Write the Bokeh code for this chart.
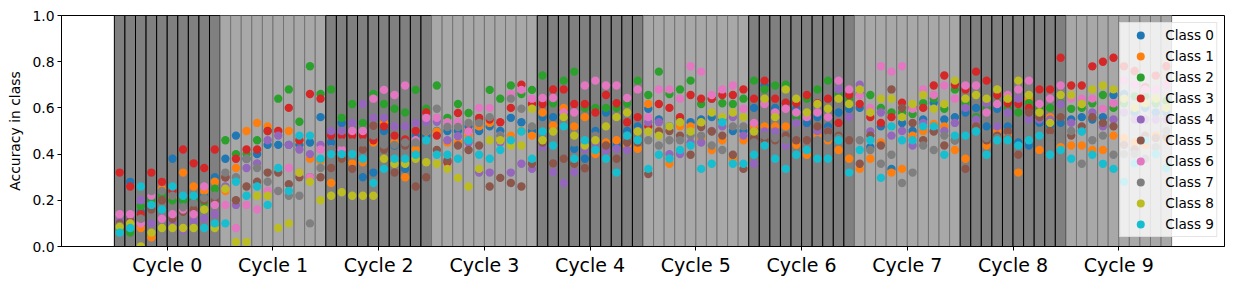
from bokeh.plotting import figure
from bokeh.models import Range1d, FixedTicker, PrintfTickFormatter, Legend, LegendItem, ColumnDataSource
from bokeh.embed import file_html
from bokeh.resources import INLINE

# ---------------- data ----------------
n_cycles = 10
epochs_per_cycle = 10
cycle_labels = ["Cycle 0", "Cycle 1", "Cycle 2", "Cycle 3", "Cycle 4",
                "Cycle 5", "Cycle 6", "Cycle 7", "Cycle 8", "Cycle 9"]
class_names = ["Class 0", "Class 1", "Class 2", "Class 3", "Class 4",
               "Class 5", "Class 6", "Class 7", "Class 8", "Class 9"]
y_ticks = [0.0, 0.2, 0.4, 0.6, 0.8, 1.0]

class0 = [.09,.28,.15,.22,.24,.38,.20,.20,.22,.30,.38,.48,.38,.40,.44,.44,.44,.44,.45,.56,
          .45,.535,.36,.30,.32,.50,.437,.336,.48,.48,.50,.50,.50,.52,.50,.52,.50,.557,.538,.50,
          .56,.56,.57,.423,.38,.50,.58,.437,.50,.52,.596,.55,.52,.55,.538,.55,.56,.55,.50,.50,
          .60,.697,.60,.62,.596,.535,.56,.52,.58,.596,.60,.43,.52,.336,.535,.50,.55,.622,.55,.56,
          .58,.60,.52,.596,.52,.45,.437,.535,.524,.535,.55,.56,.55,.56,.656,.66,.58,.60,.58,.58]
class1 = [.10,.09,.08,.04,.25,.21,.32,.26,.24,.28,.24,.34,.50,.535,.52,.50,.50,.46,.38,.37,
          .275,.38,.36,.365,.45,.538,.45,.30,.42,.498,.498,.45,.45,.48,.52,.535,.46,.48,.50,.48,
          .58,.524,.60,.52,.56,.40,.45,.46,.437,.423,.617,.50,.358,.52,.52,.47,.418,.46,.38,.46,
          .52,.52,.52,.52,.44,.397,.48,.46,.418,.38,.336,.38,.45,.32,.336,.48,.50,.53,.52,.418,
          .38,.52,.437,.50,.48,.32,.64,.418,.56,.43,.437,.437,.418,.418,.48,.47,.45,.44,.48,.47]
class2 = [.08,.06,.175,.20,.22,.20,.20,.20,.19,.25,.46,.40,.40,.46,.50,.64,.68,.54,.78,.66,
          .68,.557,.617,.535,.66,.617,.596,.58,.678,.596,.697,.557,.617,.578,.55,.678,.64,.697,.66,.678,
          .74,.62,.718,.757,.60,.60,.60,.60,.62,.718,.656,.757,.66,.68,.718,.617,.64,.62,.617,.64,
          .718,.68,.697,.70,.56,.64,.68,.718,.66,.64,.66,.656,.60,.58,.58,.574,.62,.64,.596,.68,
          .62,.56,.60,.62,.60,.58,.62,.60,.60,.62,.596,.60,.62,.656,.60,.62,.65,.65,.62,.63]
class3 = [.32,.26,.14,.32,.28,.24,.42,.36,.34,.42,.30,.38,.42,.42,.50,.50,.60,.46,.66,.64,
          .48,.48,.48,.48,.46,.52,.48,.463,.50,.58,.48,.365,.578,.50,.557,.55,.538,.60,.70,.617,
          .617,.68,.68,.617,.617,.58,.656,.62,.538,.56,.52,.617,.60,.56,.656,.64,.64,.656,.656,.68,
          .64,.718,.64,.622,.62,.656,.62,.64,.535,.656,.617,.56,.535,.56,.622,.60,.60,.697,.74,.70,
          .68,.757,.718,.656,.62,.617,.60,.68,.68,.817,.697,.697,.78,.80,.817,.78,.76,.69,.74,.78]
class4 = [.11,.12,.20,.10,.12,.10,.07,.11,.12,.14,.26,.18,.34,.36,.46,.48,.44,.42,.40,.44,
          .50,.50,.535,.617,.557,.557,.52,.52,.535,.54,.54,.46,.477,.45,.32,.32,.45,.32,.358,.336,
          .423,.322,.275,.322,.42,.45,.415,.423,.418,.50,.538,.538,.40,.40,.45,.45,.50,.52,.56,.48,
          .358,.498,.498,.437,.535,.50,.50,.50,.68,.56,.70,.498,.58,.48,.50,.437,.535,.50,.50,.535,
          .60,.55,.62,.52,.58,.64,.55,.55,.55,.617,.535,.50,.58,.52,.55,.58,.55,.55,.55,.55]
class5 = [.10,.11,.12,.16,.20,.12,.15,.16,.20,.20,.30,.20,.26,.28,.32,.32,.27,.30,.30,.30,
          .34,.38,.336,.42,.523,.42,.32,.437,.26,.30,.418,.372,.437,.418,.437,.26,.297,.275,.26,.358,
          .45,.36,.38,.358,.339,.48,.437,.38,.45,.45,.314,.498,.50,.48,.397,.517,.498,.48,.397,.336,
          .47,.46,.46,.48,.46,.46,.52,.498,.48,.46,.358,.48,.437,.68,.60,.535,.46,.498,.437,.46,
          .336,.52,.46,.48,.498,.397,.58,.56,.50,.56,.48,.52,.56,.535,.52,.44,.42,.48,.47,.475]
class6 = [.14,.14,.10,.22,.12,.14,.16,.14,.26,.18,.18,.08,.18,.16,.24,.24,.34,.32,.30,.42,
          .42,.42,.50,.50,.64,.678,.656,.697,.46,.557,.557,.538,.538,.498,.60,.60,.48,.66,.678,.64,
          .643,.643,.58,.58,.697,.718,.697,.697,.643,.68,.56,.68,.68,.64,.78,.757,.656,.68,.697,.596,
          .535,.617,.58,.596,.58,.56,.58,.56,.718,.68,.656,.60,.78,.757,.78,.596,.68,.656,.697,.64,
          .697,.697,.58,.617,.656,.68,.718,.617,.64,.697,.64,.64,.64,.596,.62,.72,.70,.68,.68,.70]
class7 = [.09,.10,.12,.24,.24,.22,.17,.19,.21,.22,.32,.30,.38,.34,.28,.24,.22,.22,.10,.34,
          .42,.45,.45,.45,.48,.44,.44,.45,.45,.50,.596,.517,.517,.535,.535,.56,.48,.64,.596,.52,
          .40,.45,.50,.45,.45,.48,.50,.50,.48,.47,.46,.437,.46,.46,.48,.48,.437,.418,.52,.52,
          .45,.48,.47,.46,.498,.498,.46,.47,.47,.50,.46,.418,.358,.397,.275,.32,.437,.418,.48,.46,
          .50,.50,.47,.47,.47,.50,.50,.50,.47,.48,.50,.358,.46,.48,.397,.40,.40,.38,.43,.50]
class8 = [.085,.10,.00,.06,.08,.08,.08,.08,.16,.08,.25,.02,.02,.22,.22,.08,.10,.32,.28,.20,
          .22,.235,.22,.22,.22,.38,.358,.358,.38,.365,.358,.336,.297,.26,.336,.46,.46,.437,.437,.596,
          .46,.498,.56,.48,.437,.46,.52,.56,.58,.498,.498,.48,.52,.538,.498,.538,.58,.56,.58,.56,
          .498,.64,.56,.68,.64,.58,.617,.596,.64,.617,.68,.58,.64,.64,.56,.617,.656,.596,.617,.718,
          .64,.656,.64,.68,.64,.718,.656,.58,.535,.656,.656,.617,.68,.697,.68,.64,.60,.62,.64,.60]
class9 = [.06,.08,.26,.18,.16,.26,.22,.22,.08,.10,.10,.28,.22,.26,.18,.34,.24,.48,.48,.38,
          .40,.40,.40,.38,.275,.336,.38,.38,.397,.46,.397,.397,.38,.46,.397,.38,.418,.46,.498,.38,
          .498,.437,.52,.38,.46,.418,.38,.32,.48,.46,.336,.397,.38,.418,.437,.336,.358,.538,.358,.358,
          .397,.437,.38,.336,.397,.418,.38,.38,.46,.32,.418,.46,.297,.52,.46,.46,.52,.52,.397,.48,
          .48,.498,.397,.46,.46,.437,.46,.48,.397,.418,.38,.498,.397,.358,.336,.28,.36,.46,.40,.34]
class_values = [class0, class1, class2, class3, class4, class5, class6, class7, class8, class9]

# ---------------- styles ----------------
colors = ["#1f77b4", "#ff7f0e", "#2ca02c", "#d62728", "#9467bd",
          "#8c564b", "#e377c2", "#7f7f7f", "#bcbd22", "#17becf"]
FONT = "DejaVu Sans"

n_epochs = n_cycles * epochs_per_cycle

p = figure(width=1233, height=285, output_backend="svg", toolbar_location=None,
           x_range=Range1d(-5, n_epochs + 5), y_range=Range1d(0, 1),
           min_border_left=61, min_border_right=9, min_border_top=15, min_border_bottom=39)
p.background_fill_color = "white"
p.border_fill_color = "white"
p.outline_line_color = "black"
p.outline_line_width = 1
p.xgrid.visible = False
p.ygrid.visible = False

# background bands (one rectangle per epoch)
lefts = list(range(n_epochs))
rights = [e + 1 for e in lefts]
fills = ["#808080" if (e // epochs_per_cycle) % 2 == 0 else "#a8a8a8" for e in lefts]
edges = ["#000000" if (e // epochs_per_cycle) % 2 == 0 else "#737373" for e in lefts]
band_src = ColumnDataSource(dict(left=lefts, right=rights, fill=fills, edge=edges))
p.quad(left="left", right="right", bottom=0, top=1, source=band_src,
       fill_color="fill", line_color="edge", line_width=1)

# scatter points
xs = [e + 0.5 for e in range(n_epochs)]
items = []
for name, vals, col in zip(class_names, class_values, colors):
    r = p.scatter(xs, vals, size=8.4, fill_color=col, line_color=None, marker="circle")
    items.append(LegendItem(label=name, renderers=[r]))

legend = Legend(items=items, location="top_right", margin=7,
                padding=2, spacing=1, glyph_height=20, glyph_width=36, label_height=20,
                label_standoff=7,
                label_text_font=FONT, label_text_font_size="13.6px", label_text_color="black",
                background_fill_color="white", background_fill_alpha=0.8,
                border_line_color="#cccccc", border_line_width=1)
p.add_layout(legend)

# x axis
centers = [c * epochs_per_cycle + epochs_per_cycle / 2 for c in range(n_cycles)]
p.xaxis.ticker = FixedTicker(ticks=centers)
p.xaxis.major_label_overrides = {c: lab for c, lab in zip(centers, cycle_labels)}
p.xaxis.major_label_text_font = FONT
p.xaxis.major_label_text_font_size = "19px"
p.xaxis.major_label_text_color = "black"
p.xaxis.major_tick_out = 4
p.xaxis.major_tick_in = 0
p.xaxis.minor_tick_line_color = None
p.xaxis.major_label_standoff = 3
p.xaxis.axis_line_color = "black"
p.xaxis.major_tick_line_color = "black"

# y axis
p.yaxis.ticker = FixedTicker(ticks=y_ticks)
p.yaxis.formatter = PrintfTickFormatter(format="%.1f")
p.yaxis.major_label_text_font = FONT
p.yaxis.major_label_text_font_size = "13.9px"
p.yaxis.major_label_text_color = "black"
p.yaxis.major_tick_out = 4
p.yaxis.major_tick_in = 0
p.yaxis.minor_tick_line_color = None
p.yaxis.major_label_standoff = 3
p.yaxis.axis_line_color = "black"
p.yaxis.major_tick_line_color = "black"
p.yaxis.axis_label = "Accuracy in class"
p.yaxis.axis_label_text_font = FONT
p.yaxis.axis_label_text_font_size = "13.9px"
p.yaxis.axis_label_text_font_style = "normal"
p.yaxis.axis_label_text_color = "black"
p.yaxis.axis_label_standoff = 6

open("out.html", "w").write(file_html(p, INLINE))
